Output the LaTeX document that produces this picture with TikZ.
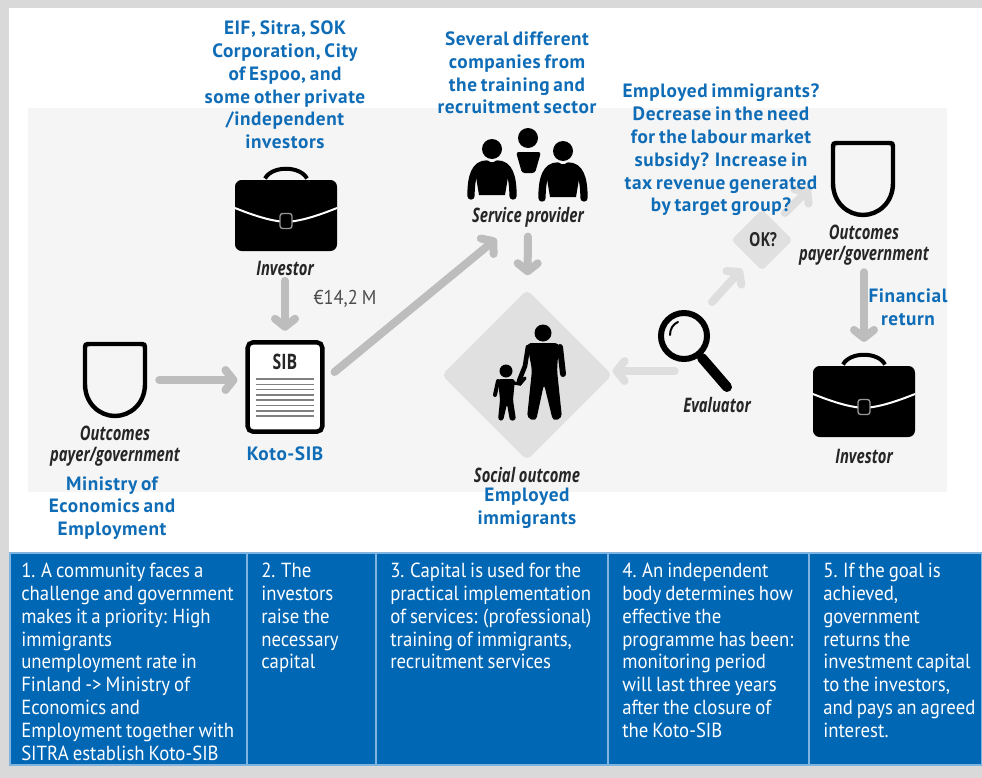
\documentclass[tikz,border=0pt]{standalone}
\usepackage{fontspec}
\usepackage{xcolor}
\usepackage{tikz}
\usetikzlibrary{positioning}
\usetikzlibrary{shapes.geometric,arrows.meta}
\newfontfamily\bluefont[LetterSpace=3,WordSpace=0.7]{PT Sans}
\newfontfamily\iconfont[FakeStretch=0.74]{Open Sans}
\newfontfamily\stepfont[FakeStretch=0.92,WordSpace=0.8]{PT Sans}
\definecolor{sidegray}{HTML}{D9D9D9}
\definecolor{panelgray}{HTML}{F5F5F5}
\definecolor{diamondgray}{HTML}{E0E0E0}
\definecolor{arrowgray}{HTML}{BDBDBD}
\definecolor{palegray}{HTML}{DEDEDE}
\definecolor{sibblue}{HTML}{0F6CB6}
\definecolor{stepblue}{HTML}{0067B5}
\definecolor{stepline}{HTML}{7FB4DF}
\tikzstyle{funder} = [text=sibblue, align=center, font=\bluefont\bfseries\fontsize{14.45}{17.1}\selectfont, inner sep=0pt]
\tikzstyle{actor} = [text=black!85, align=center, font=\iconfont\bfseries\itshape\fontsize{15}{16}\selectfont, inner sep=1pt]
\tikzstyle{icon} = [inner sep=0pt, minimum width=60pt, minimum height=55pt]
\tikzstyle{stepbox} = [rectangle, draw=stepline, line width=0.8pt, outer sep=0pt, fill=stepblue, anchor=north west, minimum height=159pt]
\tikzstyle{steptext} = [text=white, anchor=north west, align=left, inner sep=0pt, font=\stepfont\fontsize{15.3}{17.1}\selectfont]
\tikzstyle{line} = [draw=arrowgray, line width=6pt, line cap=round, -{Straight Barb[length=6pt,width=15pt,line width=6pt,round]}]
\tikzstyle{paleline} = [line, draw=palegray]
\tikzset{
  briefcase/.pic={
    \draw [line width=3pt] (-21,-37) .. controls (-14,-50) and (14,-50) .. (21,-37);
    \fill [rounded corners=5] (-51,-35.5) rectangle (51,35.5);
    \draw [white, line width=1.5pt] (-51,-7.5) .. controls (-25,3) and (-10,6) .. (0,6.5) .. controls (10,6) and (25,3) .. (51,-7.5);
    \draw [white!60!black, fill=black, line width=1pt, rounded corners=2] (-6,-2) rectangle (6,13);
  },
  shield/.pic={
    \draw [line width=3.3pt] (-30,4) -- (-30,-30) .. controls (-30,-36) .. (-24,-36) -- (24,-36) .. controls (30,-36) .. (30,-30) -- (30,4) .. controls (30,24) and (15,36) .. (0,36) .. controls (-15,36) and (-30,24) .. (-30,4) -- cycle;
  },
  person/.pic={
    \fill (0,0) circle (10);
    \draw [line width=5.5pt, line cap=round] (-21,47) .. controls (-21,27) and (-17,15) .. (-5,15);
    \draw [line width=5.5pt, line cap=round] (21,47) .. controls (21,27) and (17,15) .. (5,15);
    \fill (-12,13) -- (12,13) -- (17,22) -- (13,46) -- (-13,46) -- (-17,22) -- cycle;
  }
}

\begin{document}
\begin{tikzpicture}[x=0.75pt, y=-0.75pt]
\useasboundingbox (0,0) rectangle (982,778);
\fill [sidegray] (0,0) rectangle (982,778);
\fill [white] (9,8) rectangle (982,765);
\fill [panelgray] (28,108) rectangle (947,492);

    % nodes
\node [funder] (eif) at (285,85) {EIF, Sitra, SOK\\Corporation, City\\of Espoo, and\\some other private\\/independent\\investors};
\node [funder] (sector) at (517,73) {Several different\\companies from\\the training and\\recruitment sector};
\node [funder] (ministry) at (112,508) {Ministry of\\Economics and\\Employment};
\node [funder] (koto) at (285,454) {Koto-SIB};
\node [funder] (target) at (527,508) {Employed\\immigrants};
\node [funder] (return) at (908,307) {Financial\\return};
\node [inner sep=0pt, text=black!70, font=\stepfont\fontsize{15}{15}\selectfont] (amount) at (345,299) {€14,2 M};

\node [icon] (case) at (286,215.5) {};
\node [actor] (inv) at (285,268) {Investor};
\node [draw, line width=3.3pt, rounded corners=4pt, fill=white, inner sep=0pt, minimum width=56pt, minimum height=67pt] (sib) at (285,387) {};
\node [inner sep=0pt, text=black!85, font=\iconfont\bfseries\fontsize{16}{15}\selectfont] (sibname) at (285,362) {SIB};
\node [icon, minimum height=57pt, minimum width=48pt] (gov) at (115,380) {};
\node [actor] (govname) at (115,446) {Outcomes\\payer/government};
\node [icon, minimum height=50pt, minimum width=78pt] (staff) at (528,165) {};
\node [actor] (srv) at (528,217) {Service provider};
\node [diamond, aspect=1, fill=diamondgray, inner sep=0pt, minimum size=128pt, rounded corners=4pt] (soc) at (527,375) {};
\node [actor] (socname) at (527,475) {Social outcome};
\node [icon, minimum width=45pt, minimum height=52pt] (lens) at (705,360) {};
\node [actor] (evalr) at (717,405) {Evaluator};
\node [diamond, aspect=1, fill=diamondgray, inner sep=0pt, minimum size=46pt, rounded corners=3pt] (ok) at (762,240) {};
\node [inner sep=0pt, text=black!85, font=\iconfont\bfseries\fontsize{14.5}{15}\selectfont] (okname) at (763,240) {OK?};
\node [icon, minimum height=57pt, minimum width=48pt] (payer) at (863,179) {};
\node [actor] (payername) at (864,245) {Outcomes\\payer/government};
\node [icon] (back) at (864,401.5) {};
\node [actor] (backname) at (864,456) {Investor};

\node [stepbox, minimum width=177.75pt] (c1) at (10,553) {};
\node [stepbox, minimum width=96.75pt, right=0pt of c1.north east, anchor=north west] (c2) {};
\node [stepbox, minimum width=174pt, right=0pt of c2.north east, anchor=north west] (c3) {};
\node [stepbox, minimum width=150.75pt, right=0pt of c3.north east, anchor=north west] (c4) {};
\node [stepbox, minimum width=129.75pt, right=0pt of c4.north east, anchor=north west] (c5) {};
\node [steptext] (t1) at (21,563) {1. A community faces a\\challenge and government\\makes it a priority: High\\immigrants\\unemployment rate in\\Finland -> Ministry of\\Economics and\\Employment together with\\SITRA establish Koto-SIB};
\node [steptext] (t2) at (261,563) {2. The\\investors\\raise the\\necessary\\capital};
\node [steptext] (t3) at (390,563) {3. Capital is used for the\\practical implementation\\of services: (professional)\\training of immigrants,\\recruitment services};
\node [steptext] (t4) at (622,563) {4. An independent\\body determines how\\effective the\\programme has been:\\monitoring period\\will last three years\\after the closure of\\the Koto-SIB};
\node [steptext] (t5) at (823,563) {5. If the goal is\\achieved,\\government\\returns the\\investment capital\\to the investors,\\and pays an agreed\\interest.};

    % icons
\pic at (case) {briefcase};
\pic at (back) {briefcase};
\pic at (gov) {shield};
\pic at (payer) {shield};
\pic at (492,149) {person};
\pic at (563,151) {person};
\fill (528,138) circle (10);
\fill [rounded corners=2] (516,152) -- (541,152) -- (535,173) -- (522,173) -- cycle;
\foreach \y in {379,384.3,...,418} {
  \draw [black!50, line width=1.2pt] (256,\y) -- (314,\y);
}
\draw [line width=4.5pt] (684,336) circle (23);
\draw [line width=7.5pt, line cap=round] (702,358) -- (727,387);
\draw [line width=1.5pt, line cap=round] (670,335) .. controls (670,329) and (673,324) .. (678,322);

    % people on the large diamond
\fill (543,333) circle (8.5);
\fill [rounded corners=3] (527,343) -- (559,343) -- (557,370) -- (562,418) -- (553,421) -- (544,384) -- (536,421) -- (527,418) -- (532,370) -- cycle;
\draw [line width=4.5pt, line cap=round] (560,347) -- (563,374);
\draw [line width=3.5pt, line cap=round] (528,347) -- (525,366) -- (519,381);
\fill (506,371) circle (6.5);
\fill [rounded corners=2] (498,379) -- (515,379) -- (513,400) -- (516,420) -- (510,421) -- (507,404) -- (503,421) -- (498,420) -- (500,400) -- cycle;
\draw [line width=3pt, line cap=round] (498,381) -- (495,395);
\draw [line width=2.5pt, line cap=round] (514,383) -- (520,384) -- (525,378);

    %edges
\path [line, shorten <=3pt, shorten >=7pt] (inv) -- (sib);
\path [line, shorten <=9pt, shorten >=6pt] (gov) -- (sib.west |- gov);
\path [line] ([shift={(10,-15)}]sib.east) -- ([shift={(26,10)}]srv.south west);
\path [line, shorten <=6pt, shorten >=11pt] (srv) -- (soc);
\path [paleline] (lens.west |- 664,371) -- (soc.east |- 623,371);
\path [paleline] ([shift={(7,-23)}]lens.north) -- ([shift={(-20,-2)}]ok.south);
\path [paleline] ([shift={(-8,-27)}]ok.east) -- ([shift={(-53,9)}]payer.center);
\path [line, shorten <=4pt, shorten >=17pt] (payername) -- (back.north);

\node [funder] (effect) at (721,150) {Employed immigrants?\\Decrease in the need\\for the labour market\\subsidy? Increase in\\tax revenue generated\\by target group?};
\end{tikzpicture}
\end{document}
